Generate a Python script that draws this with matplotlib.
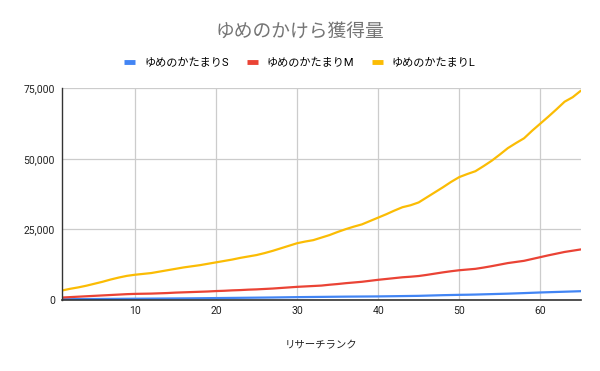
import numpy as np
import matplotlib
matplotlib.use("Agg")
import matplotlib.pyplot as plt
from matplotlib.ticker import FuncFormatter, MultipleLocator

plt.rcParams['font.family'] = ['Roboto', 'Noto Sans CJK JP', 'DejaVu Sans']

# Data
rank = list(range(1, 66))

size_s = [100, 120, 140, 160, 180, 200, 220, 240, 260, 280,
          300, 320, 340, 360, 380, 400, 420, 450, 480, 510,
          540, 570, 600, 630, 660, 690, 720, 760, 800, 840,
          870, 900, 930, 960, 990, 1020, 1040, 1060, 1080, 1100,
          1140, 1180, 1220, 1260, 1300, 1380, 1460, 1540, 1600, 1660,
          1700, 1760, 1840, 1920, 2000, 2080, 2180, 2280, 2390, 2500,
          2590, 2680, 2770, 2860, 2950]

size_m = [700, 850, 1000, 1150, 1300, 1450, 1600, 1750, 1900, 2000,
          2050, 2100, 2200, 2300, 2450, 2550, 2650, 2750, 2850, 3000,
          3100, 3250, 3350, 3500, 3600, 3750, 3900, 4100, 4300, 4500,
          4650, 4800, 4950, 5250, 5500, 5800, 6050, 6300, 6650, 7000,
          7300, 7600, 7900, 8100, 8350, 8750, 9200, 9650, 10050, 10400,
          10650, 10900, 11350, 11850, 12400, 12950, 13350, 13750, 14400, 15050,
          15700, 16300, 16900, 17350, 17800]

size_l = [3200, 3800, 4300, 4900, 5600, 6300, 7100, 7800, 8400, 8800,
          9100, 9400, 9900, 10400, 10900, 11400, 11800, 12200, 12700, 13200,
          13700, 14200, 14800, 15300, 15800, 16500, 17300, 18200, 19100, 20000,
          20600, 21100, 22000, 22900, 24000, 25000, 25900, 26700, 27900, 29100,
          30300, 31600, 32800, 33500, 34500, 36300, 38100, 39900, 41800, 43500,
          44600, 45600, 47400, 49300, 51500, 53800, 55600, 57300, 60000, 62500,
          65000, 67600, 70300, 71900, 74200]

labels = ['ゆめのかたまりS', 'ゆめのかたまりM', 'ゆめのかたまりL']
colors = ['#4285F4', '#EA4335', '#FBBC04']

fig = plt.figure(figsize=(6, 3.71), dpi=100)
ax = fig.add_axes([0.1033, 0.1927, 0.8647, 0.5688])

lines = []
for vals, lab, col in zip([size_s, size_m, size_l], labels, colors):
    ln, = ax.plot(rank, vals, color=col, lw=1.6, label=lab, solid_capstyle='round')
    lines.append(ln)

ax.set_xlim(1, 65)
ax.set_ylim(0, 75000)
ax.xaxis.set_major_locator(MultipleLocator(10))
ax.yaxis.set_major_locator(MultipleLocator(25000))
ax.yaxis.set_major_formatter(FuncFormatter(lambda v, p: f"{int(v):,}"))

ax.grid(True, color='#cccccc', lw=0.9)
ax.set_axisbelow(True)
for s in ['top', 'right']:
    ax.spines[s].set_visible(False)
ax.spines['left'].set_color('#333333')
ax.spines['bottom'].set_color('#333333')
ax.spines['left'].set_linewidth(1.0)
ax.spines['bottom'].set_linewidth(1.2)
ax.tick_params(length=0, labelsize=7.5, colors='#222222', pad=5)

ax.set_xlabel('リサーチランク', fontsize=7.5, color='#222222', labelpad=17)

fig.text(0.5, 0.915, 'ゆめのかけら獲得量', ha='center', va='center',
         fontsize=13.5, color='#757575')

leg = fig.legend(handles=lines, loc='center', bbox_to_anchor=(0.5, 0.83), ncol=3,
                 frameon=False, fontsize=8, handlelength=1.0, handletextpad=0.8,
                 columnspacing=1.6)
for h in leg.legend_handles:
    h.set_linewidth(3.5)
    h.set_solid_capstyle('butt')

fig.savefig('out.png', dpi=100)
